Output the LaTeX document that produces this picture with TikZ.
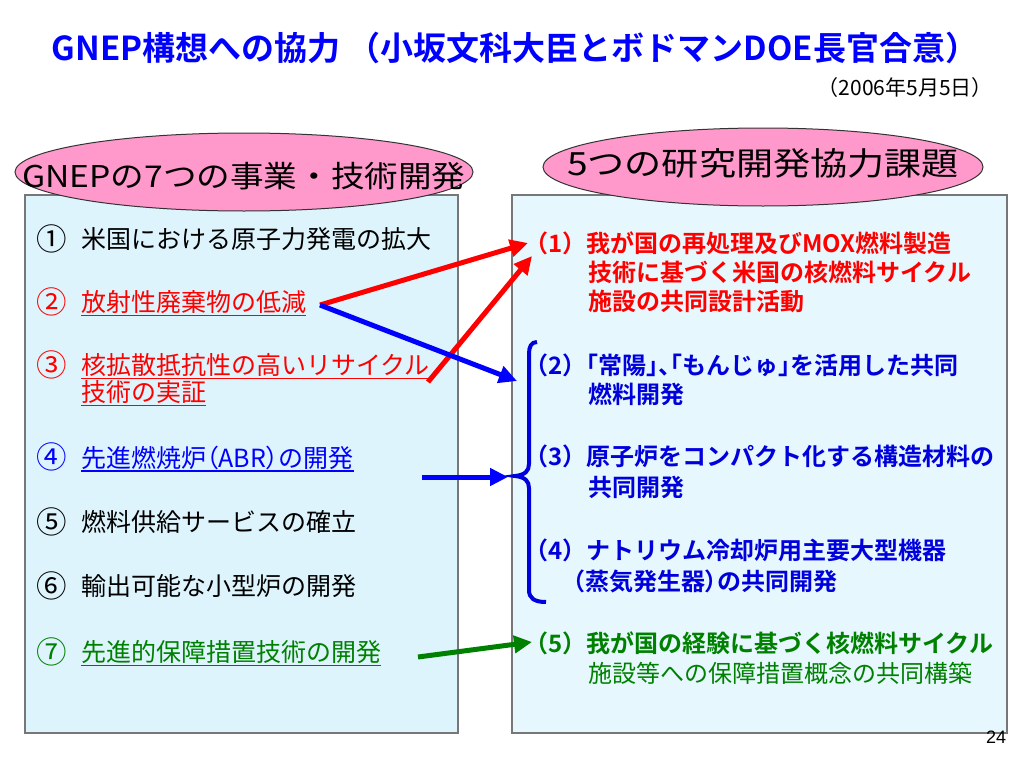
\documentclass[tikz,border=0pt]{standalone}
\usepackage{fontspec}
\setmainfont{Noto Sans CJK JP}[BoldFont={Noto Sans CJK JP Bold}]
\newfontfamily\latfont{Liberation Sans}
\usetikzlibrary{arrows.meta,shapes.geometric}
\definecolor{pinkfill}{HTML}{FF99CC}
\definecolor{boxleft}{HTML}{DDF4FC}
\definecolor{boxright}{HTML}{E6F8FD}
\definecolor{boxline}{HTML}{777777}
\definecolor{myred}{HTML}{FF0000}
\definecolor{myblue}{HTML}{0000FF}
\definecolor{dblue}{HTML}{0000DD}
\definecolor{mygreen}{HTML}{008000}
\newcommand\myul[1]{\setbox0\hbox{#1}\rlap{\rule[-4.5pt]{\wd0}{1.3pt}}\box0}
\newcommand\pal[1]{{\addfontfeatures{RawFeature=+palt}#1}}
\newcommand\cnum[1]{\makebox[45pt][l]{\raisebox{-1.5pt}{\scalebox{1.22}{#1}}}}
\begin{document}
\begin{tikzpicture}[x=1pt,y=-1pt,
  panel/.style={draw=boxline,line width=1.5pt},
  oval/.style={ellipse,draw=black!80,line width=1pt,fill=pinkfill,inner sep=0pt},
  litem/.style={anchor=base west,inner sep=0pt,font=\fontsize{25}{28}\selectfont},
  ritem/.style={anchor=base west,inner sep=0pt,font=\bfseries\fontsize{24}{29}\selectfont},
  fat/.style={line width=5pt,-{Triangle[length=18pt,width=17pt]}},
]
\useasboundingbox (0,0) rectangle (1024,768);
\fill[white] (0,0) rectangle (1024,768);

% title
\node[inner sep=0pt,text=myblue,font=\bfseries\fontsize{33}{36}\selectfont] (title) at (515,48) {GNEP構想への協力 （小坂文科大臣とボドマンDOE長官合意）};
\node[anchor=east,inner sep=0pt,font=\fontsize{21}{24}\selectfont] (date) at (993,88) {（2006年5月5日）};

% panels
\draw[panel,fill=boxleft] (25,195) rectangle (458,733);
\draw[panel,fill=boxright] (512,195) rectangle (1007,733);

% ovals
\node[oval,minimum width=458pt,minimum height=78pt] (ovl) at (244,172) {};
\node[inner sep=0pt,font=\fontsize{30}{34}\selectfont] (ovlt) at (244,176) {\scalebox{1.12}[1]{GNEPの7つの事業・技術開発}};
\node[oval,minimum width=440pt,minimum height=78pt] (ovr) at (763,167) {};
\node[inner sep=0pt,font=\fontsize{32}{36}\selectfont] (ovrt) at (763,163) {\scalebox{1.16}[1]{5つの研究開発協力課題}};

% left items
\node[litem] (l1) at (36,248.5) {\cnum{①}米国における原子力発電の拡大};
\node[litem,text=myred] (l2) at (36,311.5) {\cnum{②}\myul{放射性廃棄物の低減}};
\node[litem,text=myred] (l3a) at (36,374.5) {\cnum{③}\myul{核拡散抵抗性の高いリサイクル}};
\node[litem,text=myred] (l3b) at (81,401.5) {\myul{技術の実証}};
\node[litem,text=myblue] (l4) at (36,467) {\cnum{④}\myul{先進燃焼炉\pal{（}ABR\pal{）}の開発}};
\node[litem] (l5) at (36,531.5) {\cnum{⑤}燃料供給サービスの確立};
\node[litem] (l6) at (36,595.5) {\cnum{⑥}輸出可能な小型炉の開発};
\node[litem,text=mygreen] (l7) at (36,661.5) {\cnum{⑦}\myul{先進的保障措置技術の開発}};

% right items
\node[ritem,text=myred] (r1a) at (524,252) {（1）我が国の再処理及びMOX燃料製造};
\node[ritem,text=myred] (r1b) at (588,281) {技術に基づく米国の核燃料サイクル};
\node[ritem,text=myred] (r1c) at (588,310) {施設の共同設計活動};
\node[ritem,text=dblue] (r2a) at (524,374) {（2）\pal{「}常陽\pal{」、「}もんじゅ\pal{」}を活用した共同};
\node[ritem,text=dblue] (r2b) at (588,403) {燃料開発};
\node[ritem,text=dblue] (r3a) at (524,465) {（3）原子炉をコンパクト化する構造材料の};
\node[ritem,text=dblue] (r3b) at (588,496) {共同開発};
\node[ritem,text=dblue] (r4a) at (524,559) {（4）ナトリウム冷却炉用主要大型機器};
\node[ritem,text=dblue] (r4b) at (561,590) {（蒸気発生器\pal{）}の共同開発};
\node[ritem,text=mygreen] (r5a) at (524,652) {（5）我が国の経験に基づく核燃料サイクル};
\node[anchor=base west,inner sep=0pt,font=\fontsize{24}{29}\selectfont,text=mygreen] (r5b) at (588,682) {施設等への保障措置概念の共同構築};

% brace
\coordinate (brtop) at (537,342);
\coordinate (brmid) at (515,476);
\coordinate (brbot) at (546,602);
\draw[dblue,line width=4pt] (brtop) .. controls (531,342) and (529,347) .. (529,354)
  -- (529,464) .. controls (529,471) and (525,475) .. (brmid)
  .. controls (525,477) and (529,481) .. (529,488)
  -- (529,590) .. controls (529,598) and (534,602) .. (brbot);

% arrow end points
\coordinate (a2s) at (320,305);
\coordinate (a3s) at (428,382);
\coordinate (a4s) at (422,477);
\coordinate (a7s) at (418,657);
\coordinate (t1) at (528,243);
\coordinate (t1b) at (532,256);
\coordinate (t2) at (517,381);
\coordinate (t3) at (508,477);
\coordinate (t5) at (532,642);

\draw[fat,myred] (a2s) -- (t1);
\draw[fat,myred] (a3s) -- (t1b);
\draw[fat,myblue] (a2s) -- (t2);
\draw[fat,myblue] (a4s) -- (t3);
\draw[fat,mygreen] (a7s) -- (t5);

% page number
\node[inner sep=0pt,font=\latfont\fontsize{18}{20}\selectfont] (pg) at (996,737) {24};
\end{tikzpicture}
\end{document}
